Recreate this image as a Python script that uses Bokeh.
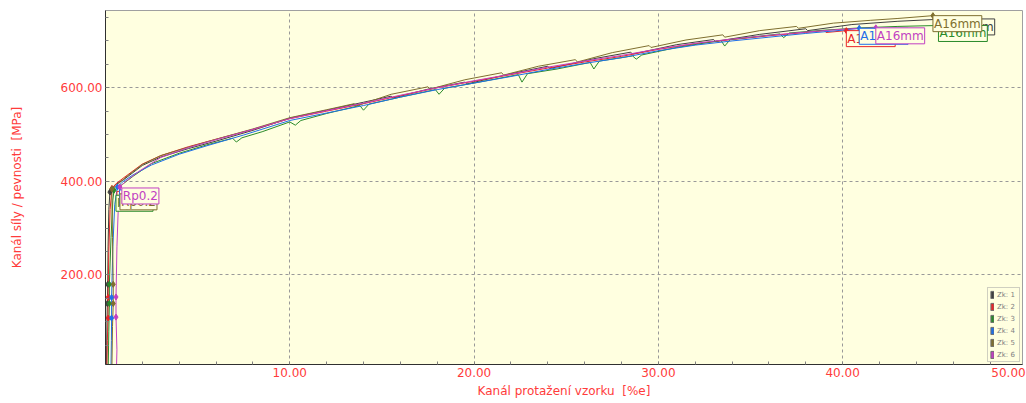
from bokeh.plotting import figure
from bokeh.models import FixedTicker, PrintfTickFormatter, Label, Legend, LegendItem, Range1d
from bokeh.embed import file_html
from bokeh.resources import INLINE

# ---------------- data ----------------
series_names = ["Zk: 1", "Zk: 2", "Zk: 3", "Zk: 4", "Zk: 5", "Zk: 6"]
series_colors = ["#404040", "#e8262a", "#2a8a2a", "#1f6fe8", "#7f6f2f", "#c23fc2"]

zk1_x = [0.05, 0.08, 0.10, 0.12, 0.14, 0.18, 0.24, 0.5, 1.0, 2.0, 3.0, 4.5, 6.0, 8.0, 10.0, 12.0, 14.0,
         15.5, 15.6, 17.5, 19.5, 19.6, 22.0, 24.0, 24.1, 26.5, 28.5, 28.6, 31.0, 33.0, 33.1, 35.5, 38.0,
         38.1, 40.5, 43.0, 45.6]
zk1_y = [8, 100, 139, 180, 260, 340, 377, 392, 404, 434, 452, 470, 486, 509, 535, 552, 569,
         582, 578, 597, 612, 608, 630, 646, 641, 662, 676, 672, 692, 703, 699, 714, 726,
         722, 735, 742, 747]

zk2_x = [0.08, 0.10, 0.14, 0.14, 0.18, 0.25, 0.35, 0.6, 1.0, 2.0, 3.0, 4.5, 6.0, 8.0, 10.0, 12.0, 14.0,
         16.0, 18.0, 20.0, 22.0, 24.0, 26.0, 28.0, 30.0, 32.0, 34.0, 36.0, 38.0, 39.0, 39.1, 40.2]
zk2_y = [8, 60, 108, 152, 250, 340, 385, 396, 408, 437, 455, 474, 490, 511, 534, 550, 566,
         583, 600, 614, 628, 642, 655, 667, 682, 694, 703, 711, 718, 722, 718, 722]

zk3_x = [0.15, 0.18, 0.21, 0.21, 0.30, 0.40, 0.46, 0.8, 1.5, 2.5, 4.0, 5.5, 6.9, 7.1, 7.4, 8.5, 10.0,
         10.3, 10.6, 12.0, 13.8, 14.0, 14.3, 16.0, 17.9, 18.1, 18.4, 20.0, 22.4, 22.6, 22.9, 24.5, 26.3,
         26.5, 26.8, 28.6, 28.8, 29.1, 31.0, 33.4, 33.6, 33.9, 35.0, 36.6, 36.8, 37.1, 39.0, 41.0, 43.0,
         45.2]
zk3_y = [8, 80, 139, 180, 280, 360, 381, 390, 411, 438, 460, 478, 492, 484, 493, 506, 527,
         520, 530, 545, 562, 552, 565, 580, 596, 586, 599, 610, 628, 612, 630, 640, 654,
         640, 657, 668, 661, 670, 686, 701, 689, 703, 708, 715, 707, 717, 723, 728, 731,
         733]

zk4_x = [0.30, 0.32, 0.33, 0.33, 0.40, 0.50, 0.65, 0.9, 1.5, 2.5, 4.0, 5.5, 7.5, 10.0, 12.0, 14.0,
         16.0, 18.0, 20.0, 22.0, 24.0, 26.0, 28.0, 30.0, 32.0, 34.0, 36.0, 38.0, 40.0, 40.9]
zk4_y = [8, 60, 108, 152, 260, 350, 388, 398, 414, 435, 458, 476, 499, 530, 546, 562,
         580, 596, 610, 624, 639, 652, 664, 679, 691, 700, 708, 716, 723, 727]

zk5_x = [0.35, 0.38, 0.42, 0.42, 0.38, 0.35, 0.35, 0.7, 1.2, 2.0, 3.0, 4.5, 6.0, 8.0, 10.0, 12.0,
         13.5, 13.6, 15.5, 17.5, 17.6, 19.5, 21.5, 21.6, 23.5, 25.5, 25.6, 27.5, 29.5, 29.6, 31.5,
         33.5, 33.6, 35.5, 37.5, 37.6, 39.5, 41.5, 43.0, 44.9]
zk5_y = [8, 90, 139, 180, 280, 360, 384, 395, 412, 436, 455, 473, 490, 512, 536, 553,
         566, 561, 586, 602, 597, 617, 632, 627, 646, 660, 655, 675, 690, 686, 702,
         713, 708, 722, 731, 727, 738, 744, 748, 754]

zk6_x = [0.60, 0.62, 0.57, 0.57, 0.62, 0.70, 0.78, 1.1, 1.8, 3.0, 4.5, 6.0, 8.0, 10.0, 12.0, 14.0,
         16.0, 18.0, 20.0, 22.0, 24.0, 26.0, 28.0, 30.0, 32.0, 34.0, 36.0, 38.0, 40.0, 41.8]
zk6_y = [8, 40, 110, 153, 260, 350, 388, 400, 421, 451, 472, 489, 511, 534, 551, 567,
         584, 600, 615, 629, 644, 657, 669, 683, 695, 704, 712, 719, 725, 728]

# marker points (two elastic-range points, Rp0.2, end point)
zk1_mx = [0.12, 0.10, 0.24, 45.6]
zk1_my = [180, 139, 377, 747]
zk2_mx = [0.14, 0.14, 0.35, 40.2]
zk2_my = [152, 108, 385, 722]
zk3_mx = [0.21, 0.21, 0.46, 45.2]
zk3_my = [180, 139, 381, 733]
zk4_mx = [0.33, 0.33, 0.65, 40.9]
zk4_my = [152, 108, 388, 727]
zk5_mx = [0.42, 0.42, 0.35, 44.9]
zk5_my = [180, 139, 384, 754]
zk6_mx = [0.57, 0.57, 0.78, 41.8]
zk6_my = [153, 110, 388, 728]

rp_label = "Rp0.2"
end_label = "A16mm"

x_ticks = [10, 20, 30, 40]
x_minor = [2, 4, 6, 8, 10, 12, 14, 16, 18, 20, 22, 24, 26, 28, 30, 32, 34, 36, 38, 40, 42, 44, 46, 48]
x_last_tick_pos = 49.0
x_last_tick_label = "50.00"
y_ticks = [200, 400, 600]
y_minor = [50, 100, 150, 250, 300, 350, 450, 500, 550, 650, 700, 750]

x_title = "Kanál protažení vzorku\u00a0\u00a0[%e]"
y_title = "Kanál síly / pevnosti\u00a0\u00a0[MPa]"

curves = [(zk1_x, zk1_y), (zk2_x, zk2_y), (zk3_x, zk3_y), (zk4_x, zk4_y), (zk5_x, zk5_y), (zk6_x, zk6_y)]
marks = [(zk1_mx, zk1_my), (zk2_mx, zk2_my), (zk3_mx, zk3_my), (zk4_mx, zk4_my), (zk5_mx, zk5_my), (zk6_mx, zk6_my)]

# label box offsets (screen px) so the boxes stack as in the original
rp_offsets = [(8, -1), (5, -3), (2, -5), (2, -3), (8, -5), (2, -1)]
rp_order = [0, 1, 2, 3, 4, 5]
end_order = [0, 1, 3, 5, 2, 4]

RED = "#ff3b3b"
FONT = "DejaVu Sans"
BG = "#ffffe0"

p = figure(width=1026, height=403, output_backend="svg", toolbar_location=None,
           x_range=Range1d(0, 49.76), y_range=Range1d(8.75, 765),
           min_border_left=105, min_border_right=4, min_border_top=10, min_border_bottom=39,
           background_fill_color=BG, border_fill_color="white")

p.outline_line_color = "#a0a0a0"

for ax in (p.xaxis[0], p.yaxis[0]):
    ax.major_label_text_color = RED
    ax.major_label_text_font = FONT
    ax.major_label_text_font_size = "12px"
    ax.axis_label_text_color = RED
    ax.axis_label_text_font = FONT
    ax.axis_label_text_font_size = "12px"
    ax.axis_label_text_font_style = "normal"
    ax.axis_line_color = "#303030"
    ax.major_tick_line_color = "#808080"
    ax.minor_tick_line_color = "#808080"
    ax.major_tick_in = 4
    ax.major_tick_out = 0
    ax.minor_tick_in = 3
    ax.minor_tick_out = 0
    ax.formatter = PrintfTickFormatter(format="%.2f")

xt = x_ticks + [x_last_tick_pos]
p.xaxis[0].ticker = FixedTicker(ticks=xt, minor_ticks=x_minor)
p.xaxis[0].major_tick_line_color = None
p.xaxis[0].major_label_overrides = {x_last_tick_pos: x_last_tick_label}
p.yaxis[0].ticker = FixedTicker(ticks=y_ticks, minor_ticks=y_minor)
p.xgrid[0].ticker = FixedTicker(ticks=x_ticks)
p.ygrid[0].ticker = FixedTicker(ticks=y_ticks)
p.xaxis[0].axis_label = x_title
p.yaxis[0].axis_label = y_title
p.xaxis[0].major_label_standoff = 3
p.xaxis[0].axis_label_standoff = 4
p.yaxis[0].major_label_standoff = 3
p.yaxis[0].axis_label_standoff = 34

for g in (p.xgrid[0], p.ygrid[0]):
    g.grid_line_color = "#999999"
    g.grid_line_dash = "3 3"
    g.grid_line_width = 1

# curves
for (cx, cy), c in zip(curves, series_colors):
    p.line(cx, cy, line_color=c, line_width=1)

for (mx, my), c in zip(marks, series_colors):
    p.scatter(mx, my, marker="diamond", size=6, fill_color=c, line_color=c)

# Rp0.2 and end labels
for i in rp_order:
    (mx, my), c = marks[i], series_colors[i]
    dx, dy = rp_offsets[i]
    p.add_layout(Label(x=mx[2], y=my[2], text=rp_label, text_color=c, text_font=FONT,
                       text_font_size="12px", text_align="left", text_baseline="top",
                       x_offset=dx, y_offset=dy, border_line_color=c, background_fill_color=BG,
                       padding=1))
for i in end_order:
    (mx, my), c = marks[i], series_colors[i]
    p.add_layout(Label(x=mx[3], y=my[3], text=end_label, text_color=c, text_font=FONT,
                       text_font_size="12px", text_align="left", text_baseline="top",
                       x_offset=0, y_offset=0, border_line_color=c, background_fill_color=BG,
                       padding=1))

# legend with colour swatches (swatch renderers hold no visible geometry)
nan = float("nan")
items = []
for name, c in zip(series_names, series_colors):
    r = p.quad(left=[nan], right=[nan], top=[nan], bottom=[nan], fill_color=c, line_color="#707070")
    items.append(LegendItem(label=name, renderers=[r]))
legend = Legend(items=items, location="bottom_right", label_text_font_size="7px",
                label_text_color="#808080", label_text_font=FONT, glyph_width=4, glyph_height=9,
                label_height=9, spacing=3, padding=2, margin=2, label_standoff=3,
                border_line_color="#a0a0a0", background_fill_color=BG, background_fill_alpha=1)
p.add_layout(legend)

open("out.html", "w").write(file_html(p, INLINE))
